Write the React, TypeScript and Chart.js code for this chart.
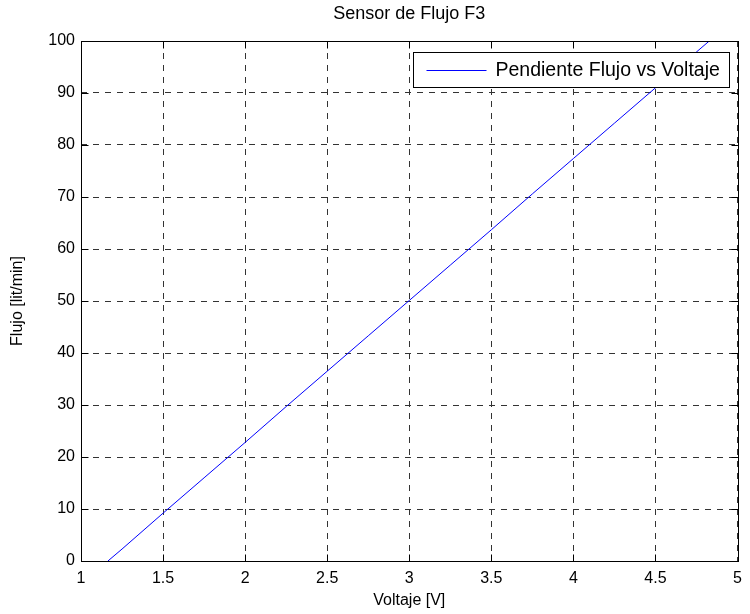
import React, { useEffect, useRef } from "react";
import { Chart, registerables } from "chart.js";

Chart.register(...registerables);

const voltage = [1.164, 1.25, 1.5, 1.75, 2.0, 2.25, 2.5, 2.75, 3.0, 3.25, 3.5, 3.75, 4.0, 4.25, 4.5, 4.75, 4.85];
const flow = [0, 2.3, 9.2, 16.0, 22.8, 29.7, 36.5, 43.3, 50.1, 56.9, 63.7, 70.6, 77.4, 84.2, 91.0, 97.9, 100.6];

const titleText = "Sensor de Flujo F3";
const xTitle = "Voltaje [V]";
const yTitle = "Flujo [lit/min]";
const legendLabel = "Pendiente Flujo vs Voltaje";
const xMin = 1, xMax = 5, xStep = 0.5;
const yMin = 0, yMax = 100, yStep = 10;

const FONT = "'Liberation Sans', Arial, Helvetica, sans-serif";

const framePlugin = {
  id: "frame",
  beforeDraw(chart: any) {
    const ctx = chart.ctx;
    ctx.save();
    ctx.fillStyle = "#ffffff";
    ctx.fillRect(0, 0, chart.width, chart.height);
    ctx.restore();
  },
  afterDatasetsDraw(chart: any) {
    const { ctx, chartArea } = chart;
    const { left, right, top, bottom } = chartArea;
    ctx.save();
    // title centred over the axes
    ctx.fillStyle = "#000";
    ctx.font = `18px ${FONT}`;
    ctx.textAlign = "center";
    ctx.textBaseline = "middle";
    ctx.fillText(titleText, (left + right) / 2, top - 27);

    // box
    ctx.strokeStyle = "#000";
    ctx.lineWidth = 1;
    ctx.setLineDash([]);
    const L = Math.round(left) + 0.5, R = Math.round(right) + 0.5;
    const T = Math.round(top) + 0.5, B = Math.round(bottom) + 0.5;
    ctx.strokeRect(L, T, R - L, B - T);

    // inward ticks
    const tl = 7;
    const xs = chart.scales.x, ys = chart.scales.y;
    ctx.beginPath();
    xs.ticks.forEach((t: any) => {
      const px = Math.round(xs.getPixelForValue(t.value)) + 0.5;
      ctx.moveTo(px, B); ctx.lineTo(px, B - tl);
      ctx.moveTo(px, T); ctx.lineTo(px, T + tl);
    });
    ys.ticks.forEach((t: any) => {
      const py = Math.round(ys.getPixelForValue(t.value)) + 0.5;
      ctx.moveTo(L, py); ctx.lineTo(L + tl, py);
      ctx.moveTo(R, py); ctx.lineTo(R - tl, py);
    });
    ctx.stroke();

    // legend
    ctx.font = `19.5px ${FONT}`;
    const tw = ctx.measureText(legendLabel).width;
    const boxR = Math.round(right) - 9 + 0.5;
    const boxT = Math.round(top) + 11 + 0.5;
    const boxH = 35;
    const boxW = 13 + 60 + 9 + tw + 10;
    const boxL = Math.round(boxR - boxW) + 0.5;
    ctx.fillStyle = "#fff";
    ctx.fillRect(boxL, boxT, boxR - boxL, boxH);
    ctx.strokeStyle = "#000";
    ctx.strokeRect(boxL, boxT, boxR - boxL, boxH);
    const cy = Math.round(boxT + boxH / 2) + 0.5;
    ctx.strokeStyle = "#0000ff";
    ctx.beginPath();
    ctx.moveTo(boxL + 13, cy);
    ctx.lineTo(boxL + 73, cy);
    ctx.stroke();
    ctx.fillStyle = "#000";
    ctx.textAlign = "left";
    ctx.textBaseline = "middle";
    ctx.fillText(legendLabel, boxL + 82, cy);
    ctx.restore();
  },
};

export default function App() {
  const ref = useRef<HTMLCanvasElement | null>(null);
  useEffect(() => {
    if (!ref.current) return;
    const chart = new Chart(ref.current, {
      type: "line",
      data: {
        datasets: [
          {
            label: legendLabel,
            data: voltage.map((v, i) => ({ x: v, y: flow[i] })),
            borderColor: "#0000ff",
            borderWidth: 1,
            pointRadius: 0,
            fill: false,
            tension: 0,
          },
        ],
      },
      options: {
        animation: false,
        responsive: false,
        devicePixelRatio: 1,
        layout: { padding: { top: 41, right: 9, bottom: 0, left: 0 } },
        plugins: {
          legend: { display: false },
          title: { display: false },
          tooltip: { enabled: false },
        },
        scales: {
          x: {
            type: "linear",
            min: xMin,
            max: xMax,
            ticks: {
              stepSize: xStep,
              padding: 8,
              color: "#000",
              font: { family: FONT, size: 16 },
              maxRotation: 0,
              autoSkip: false,
              callback: (v: any) => String(v),
            },
            grid: { color: "#333", lineWidth: 1, drawTicks: false },
            border: { display: false, dash: [6, 6] },
            title: {
              display: true,
              text: xTitle,
              color: "#000",
              font: { family: FONT, size: 16 },
              padding: { top: 0, bottom: 4 },
            },
            afterFit: (s: any) => { s.height = 53; },
          },
          y: {
            type: "linear",
            min: yMin,
            max: yMax,
            ticks: {
              stepSize: yStep,
              padding: 6,
              color: "#000",
              font: { family: FONT, size: 16 },
              autoSkip: false,
            },
            grid: { color: "#333", lineWidth: 1, drawTicks: false },
            border: { display: false, dash: [6, 6] },
            title: {
              display: true,
              text: yTitle,
              color: "#000",
              font: { family: FONT, size: 16 },
              padding: { top: 8, bottom: 0 },
            },
            afterFit: (s: any) => { s.width = 81; },
          },
        },
      },
      plugins: [framePlugin],
    } as any);
    return () => chart.destroy();
  }, []);
  return (
    <div style={{ position: "absolute", left: 0, top: 0, width: 750, height: 614, background: "#fff" }}>
      <canvas ref={ref} width={750} height={614} style={{ display: "block" }} />
    </div>
  );
}
